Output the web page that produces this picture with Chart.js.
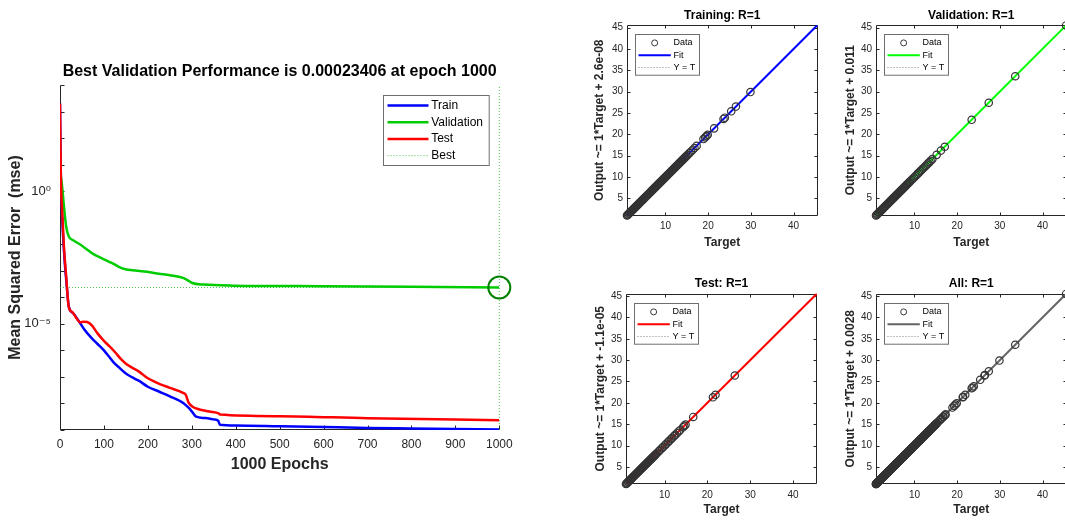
<!DOCTYPE html>
<html>
<head>
<meta charset="utf-8">
<title>Training performance and regression</title>
<script src="https://cdn.jsdelivr.net/npm/chart.js@4.4.1/dist/chart.umd.min.js"></script>
<style>
  html, body { margin:0; padding:0; background:#ffffff; width:1065px; height:521px; overflow:hidden; position:relative; }
  canvas { position:absolute; display:block; }
</style>
</head>
<body>
<script>
// ================= DATA =================
// Performance plot (mse on log scale, stored as log10 values)
const perfTrainEpochs = [0,2,5,10,15,20,30,45,55,70,85,100,110,122,135,150,165,180,200,225,250,282,292,300,310,330,350,360,364,400,500,600,700,800,900,1000];
const perfTrainLog10  = [3.3,0.5,-1.0,-2.5,-3.5,-4.35,-4.6,-4.95,-5.2,-5.5,-5.75,-6.0,-6.2,-6.45,-6.65,-6.87,-7.02,-7.15,-7.37,-7.55,-7.73,-8.0,-8.15,-8.3,-8.5,-8.55,-8.6,-8.65,-8.8,-8.83,-8.86,-8.89,-8.92,-8.94,-8.96,-8.98];

const perfValEpochs = [0,4,9,14,20,30,45,60,73,85,100,113,123,135,149,165,198,225,250,280,290,301,327,395,600,800,1000];
const perfValLog10  = [0.75,0.3,-0.57,-1.33,-1.71,-1.85,-2.0,-2.18,-2.34,-2.45,-2.57,-2.67,-2.75,-2.86,-2.94,-2.98,-3.04,-3.11,-3.17,-3.27,-3.35,-3.46,-3.52,-3.56,-3.58,-3.6,-3.63];

const perfTestEpochs = [0,2,5,9,14,20,28,38,45,55,62,73,85,100,113,126,140,150,165,180,198,215,230,250,280,286,293,301,312,340,362,365,500,700,1000];
const perfTestLog10  = [3.3,0.5,-0.8,-2.1,-3.2,-4.37,-4.56,-4.8,-4.94,-4.92,-4.93,-5.07,-5.35,-5.64,-5.85,-6.08,-6.35,-6.5,-6.66,-6.8,-7.03,-7.18,-7.29,-7.41,-7.6,-7.67,-7.98,-8.11,-8.2,-8.3,-8.38,-8.42,-8.48,-8.56,-8.63];

const bestEpoch = 1000;
const bestPerf = 0.00023406;
const perfXTicks = [0,100,200,300,400,500,600,700,800,900,1000];
const perfYTickExps = [-9,-8,-7,-6,-5,-4,-3,-2,-1,0,1,2,3,4];
const perfYTickLabels = ['','','','','10\u207B\u2075','','','','','10\u2070','','','',''];
const perfYRange = [1e-9, 1e4];
const perfXRange = [0, 1000];

// Regression plots (targets; outputs equal targets since R=1)
const trainTargets = [1.0,1.1,1.25,1.4,1.55,1.7,1.9,2.05,2.2,2.4,2.55,2.7,2.9,3.05,3.2,3.4,3.55,3.7,3.9,4.05,4.2,4.4,4.55,4.7,4.9,5.05,5.2,5.4,5.55,5.7,5.9,6.05,6.2,6.4,6.55,6.7,6.9,7.05,7.2,7.4,7.55,7.7,7.9,8.05,8.2,8.4,8.55,8.7,8.9,9.05,9.2,9.4,9.55,9.7,9.9,10.05,10.2,10.4,10.55,10.7,10.9,11.05,11.2,11.4,11.55,11.7,11.9,12.05,12.2,12.4,12.55,12.7,12.9,13.05,13.2,13.4,13.55,13.7,13.9,14.05,14.2,14.4,14.55,14.7,14.9,15.2,15.6,16.0,16.4,16.8,17.3,18.9,19.3,19.6,19.9,21.4,23.6,23.9,25.4,26.5,29.9];
const valTargets = [1.0,1.15,1.3,1.5,1.65,1.8,2.0,2.15,2.3,2.5,2.65,2.8,3.0,3.15,3.3,3.5,3.65,3.8,4.0,4.15,4.3,4.5,4.65,4.8,5.0,5.15,5.3,5.5,5.65,5.8,6.0,6.15,6.3,6.5,6.65,6.8,7.0,7.15,7.3,7.5,7.65,7.8,8.0,8.15,8.3,8.5,8.65,8.8,9.0,9.3,9.6,9.9,10.2,10.5,10.8,11.1,11.4,11.7,12.0,12.3,12.6,12.9,13.2,13.5,13.8,14.2,15.2,16.2,17.1,23.4,27.4,33.6,45.5];
const testTargets = [1.0,1.15,1.3,1.5,1.65,1.8,2.0,2.15,2.3,2.5,2.65,2.8,3.0,3.15,3.3,3.5,3.65,3.8,4.0,4.15,4.3,4.5,4.65,4.8,5.0,5.15,5.3,5.5,5.65,5.8,6.0,6.15,6.3,6.5,6.65,6.8,7.0,7.15,7.3,7.5,7.65,7.8,8.0,8.3,8.7,9.0,9.4,9.7,10.1,10.4,10.8,11.1,11.5,11.8,12.2,12.5,12.9,13.3,13.6,14.3,14.6,14.9,16.7,21.3,21.9,26.4];
const allTargets = trainTargets.concat(valTargets, testTargets);

const regTitles = ['Training: R=1','Validation: R=1','Test: R=1','All: R=1'];
const regYLabels = ['Output ~= 1*Target + 2.6e-08','Output ~= 1*Target + 0.011','Output ~= 1*Target + -1.1e-05','Output ~= 1*Target + 0.0028'];
const fitSlopes = [1,1,1,1];
const fitIntercepts = [2.6e-8, 0.011, -1.1e-5, 0.0028];
const regLimits = [1.0, 45.6];
const regXTicks = [10,20,30,40];
const regYTicks = [5,10,15,20,25,30,35,40,45];

// ================= STYLE / LAYOUT =================
const FONT = "'Liberation Sans', Arial, Helvetica, 'DejaVu Sans', sans-serif";
Chart.defaults.font.family = FONT;
Chart.defaults.color = '#262626';
const fitColors = ['#0000ff','#00ff00','#ff0000','#646464'];

function makeCanvas(left, top, w, h) {
  const c = document.createElement('canvas');
  c.width = w; c.height = h;
  c.style.left = left + 'px'; c.style.top = top + 'px';
  c.style.width = w + 'px'; c.style.height = h + 'px';
  document.body.appendChild(c);
  return c;
}

const framePlugin = {
  id: 'matFrame',
  beforeDatasetsDraw(chart, args, o) {
    const ctx = chart.ctx, a = chart.chartArea;
    const xs = chart.scales.x, ys = chart.scales.y;
    const L = Math.round(a.left) + 0.5, R = Math.round(a.right) - 0.5;
    const T = Math.round(a.top) + 0.5, B = Math.round(a.bottom) - 0.5;
    const tl = o.tickLen;
    ctx.save();
    ctx.strokeStyle = '#262626';
    ctx.lineWidth = 1;
    ctx.beginPath();
    if (o.box) { ctx.rect(L, T, R - L, B - T); }
    else { ctx.moveTo(L, T); ctx.lineTo(L, B); ctx.lineTo(R, B); }
    xs.ticks.forEach(t => {
      const p = Math.round(xs.getPixelForValue(t.value)) + 0.5;
      ctx.moveTo(p, B); ctx.lineTo(p, B - tl);
      if (o.box) { ctx.moveTo(p, T); ctx.lineTo(p, T + tl); }
    });
    ys.ticks.forEach(t => {
      const p = Math.round(ys.getPixelForValue(t.value)) + 0.5;
      ctx.moveTo(L, p); ctx.lineTo(L + tl, p);
      if (o.box) { ctx.moveTo(R, p); ctx.lineTo(R - tl, p); }
    });
    ctx.stroke();
    ctx.restore();
  }
};

const legendPlugin = {
  id: 'matLegend',
  afterDatasetsDraw(chart, args, o) {
    if (!o || !o.items) return;
    const ctx = chart.ctx, a = chart.chartArea;
    const x0 = Math.round(a.left + o.dx) + 0.5, y0 = Math.round(a.top + o.dy) + 0.5;
    ctx.save();
    ctx.fillStyle = '#ffffff';
    ctx.fillRect(x0, y0, o.w, o.h);
    ctx.strokeStyle = '#6e6e6e';
    ctx.lineWidth = 1;
    ctx.strokeRect(x0, y0, o.w, o.h);
    ctx.font = o.fontSize + 'px ' + FONT;
    ctx.textBaseline = 'middle';
    ctx.textAlign = 'left';
    o.items.forEach((it, i) => {
      const y = y0 + o.row0 + i * o.rowH;
      const s0 = x0 + o.s0, s1 = x0 + o.s1;
      ctx.save();
      ctx.strokeStyle = it.color;
      ctx.lineWidth = it.width;
      ctx.beginPath();
      if (it.kind === 'marker') {
        ctx.arc((s0 + s1) / 2, y, o.markerR, 0, Math.PI * 2);
      } else {
        if (it.kind === 'dot') ctx.setLineDash([1, 2]);
        ctx.moveTo(s0, y); ctx.lineTo(s1, y);
      }
      ctx.stroke();
      ctx.restore();
      ctx.fillStyle = '#000000';
      ctx.fillText(it.text, x0 + o.tx, y);
    });
    ctx.restore();
  }
};

// ================= PERFORMANCE CHART =================
const toPts = (xs, logs) => xs.map((x, i) => ({ x: x, y: Math.pow(10, logs[i]) }));

(function () {
  const c = makeCanvas(0, 0, 540, 521);
  new Chart(c, {
    type: 'scatter',
    data: {
      datasets: [
        { label: 'Train', data: toPts(perfTrainEpochs, perfTrainLog10), showLine: true, borderColor: '#0000ff', borderWidth: 2.5, pointRadius: 0, order: 3, cubicInterpolationMode: 'monotone' },
        { label: 'Validation', data: toPts(perfValEpochs, perfValLog10), showLine: true, borderColor: '#00cc00', borderWidth: 2.5, pointRadius: 0, order: 2, cubicInterpolationMode: 'monotone' },
        { label: 'Test', data: toPts(perfTestEpochs, perfTestLog10), showLine: true, borderColor: '#ff0000', borderWidth: 2.5, pointRadius: 0, order: 1, cubicInterpolationMode: 'monotone' },
        { label: 'Best', data: [{ x: perfXRange[0], y: bestPerf }, { x: perfXRange[1], y: bestPerf }], showLine: true, borderColor: 'rgba(0,170,0,0.7)', borderWidth: 1, borderDash: [1, 2], pointRadius: 0, order: 4 },
        { label: 'BestEpoch', data: [{ x: bestEpoch, y: perfYRange[0] }, { x: bestEpoch, y: perfYRange[1] }], showLine: true, borderColor: 'rgba(0,170,0,0.7)', borderWidth: 1, borderDash: [1, 2], pointRadius: 0, order: 4, clip: false },
        { label: 'BestPoint', data: [{ x: bestEpoch, y: bestPerf }], showLine: false, pointRadius: 11, pointBorderWidth: 2, pointBorderColor: '#008000', pointBackgroundColor: 'rgba(0,0,0,0)', order: 0, clip: false }
      ]
    },
    options: {
      responsive: false, animation: false, devicePixelRatio: 1, events: [],
      layout: { padding: { left: 0, right: 40.7, top: 0, bottom: 0 } },
      scales: {
        x: {
          type: 'linear', min: perfXRange[0], max: perfXRange[1],
          afterBuildTicks: s => { s.ticks = perfXTicks.map(v => ({ value: v })); },
          grid: { display: false, drawTicks: false }, border: { display: false },
          ticks: { font: { size: 12 }, color: '#262626', padding: 7.5, autoSkip: false, maxRotation: 0, callback: v => String(v) },
          title: { display: true, text: '1000 Epochs', font: { size: 16, weight: 'bold' }, color: '#262626', padding: { top: 0, bottom: 46.4 } },
          afterFit: s => { s.height = 91; }
        },
        y: {
          type: 'logarithmic', min: perfYRange[0], max: perfYRange[1],
          afterBuildTicks: s => { s.ticks = perfYTickExps.map(e => ({ value: Math.pow(10, e) })); },
          grid: { display: false, drawTicks: false }, border: { display: false },
          ticks: { font: { size: 13 }, color: '#262626', padding: 9, autoSkip: false, callback: (v, i) => perfYTickLabels[i] },
          title: { display: true, text: 'Mean Squared Error  (mse)', font: { size: 16, weight: 'bold' }, color: '#262626', padding: { top: 6.4, bottom: 0 } },
          afterFit: s => { s.width = 60; }
        }
      },
      plugins: {
        legend: { display: false }, tooltip: { enabled: false },
        title: { display: true, text: 'Best Validation Performance is 0.00023406 at epoch 1000', font: { size: 16, weight: 'bold' }, color: '#000000', padding: { top: 61.9, bottom: 3.9 }, fullSize: false },
        matFrame: { box: false, tickLen: 4 },
        matLegend: {
          dx: 323.3, dy: 10, w: 105.7, h: 70, row0: 10, rowH: 16.7, s0: 4, s1: 45, tx: 47.7, fontSize: 12, markerR: 3,
          items: [
            { kind: 'line', color: '#0000ff', width: 2.5, text: 'Train' },
            { kind: 'line', color: '#00cc00', width: 2.5, text: 'Validation' },
            { kind: 'line', color: '#ff0000', width: 2.5, text: 'Test' },
            { kind: 'dot', color: 'rgba(0,170,0,0.7)', width: 1, text: 'Best' }
          ]
        }
      }
    },
    plugins: [framePlugin, legendPlugin]
  });
})();

// ================= REGRESSION CHARTS =================
const regPanels = [
  { left: 575, top: 0,   w: 250, h: 258, ca: [627, 25, 817.5, 215.5], titleY: 15.8,  xTitleY: 242.5, yTitleX: 600 },
  { left: 824, top: 0,   w: 250, h: 258, ca: [876, 25, 1066.5, 215.5], titleY: 15.8, xTitleY: 242.5, yTitleX: 850.7 },
  { left: 574, top: 262, w: 250, h: 259, ca: [626, 293.5, 817, 484], titleY: 283.5,  xTitleY: 510, yTitleX: 600.7 },
  { left: 824, top: 262, w: 250, h: 259, ca: [876, 293.5, 1066.5, 484], titleY: 283.5, xTitleY: 510, yTitleX: 850.7 }
];
const regData = [trainTargets, valTargets, testTargets, allTargets];

regPanels.forEach((P, idx) => {
  const c = makeCanvas(P.left, P.top, P.w, P.h);
  const lo = regLimits[0], hi = regLimits[1];
  const yAxisW = P.ca[0] - P.left;
  const padRight = P.w - (P.ca[2] - P.left);
  const titleH = P.ca[1] - P.top;
  const tTop = P.titleY - P.top - 7.2;
  const tBottom = titleH - tTop - 14.4;
  const xH = P.h - (P.ca[3] - P.top);
  const xtPad = (P.top + P.h - P.xTitleY) - 7.2;
  const ytPad = P.yTitleX - P.left - 7.2;
  const targets = regData[idx];
  new Chart(c, {
    type: 'scatter',
    data: {
      datasets: [
        { label: 'Data', data: targets.map(t => ({ x: t, y: t })), showLine: false, pointRadius: 3.7, pointBorderWidth: 1.2, pointBorderColor: '#333333', pointBackgroundColor: 'rgba(0,0,0,0)', clip: false, order: 0 },
        { label: 'Fit', data: [{ x: lo, y: fitSlopes[idx] * lo + fitIntercepts[idx] }, { x: hi, y: fitSlopes[idx] * hi + fitIntercepts[idx] }], showLine: true, borderColor: fitColors[idx], borderWidth: 2, pointRadius: 0, order: 1 },
        { label: 'Y = T', data: [{ x: lo, y: lo }, { x: hi, y: hi }], showLine: true, borderColor: '#808080', borderWidth: 1, borderDash: [1, 2], pointRadius: 0, order: 2 }
      ]
    },
    options: {
      responsive: false, animation: false, devicePixelRatio: 1, events: [],
      layout: { padding: { left: 0, right: padRight, top: 0, bottom: 0 } },
      scales: {
        x: {
          type: 'linear', min: lo, max: hi,
          afterBuildTicks: s => { s.ticks = regXTicks.map(v => ({ value: v })); },
          grid: { display: false, drawTicks: false }, border: { display: false },
          ticks: { font: { size: 10 }, color: '#262626', padding: 5, autoSkip: false, maxRotation: 0 },
          title: { display: true, text: 'Target', font: { size: 12, weight: 'bold' }, color: '#262626', padding: { top: 0, bottom: xtPad } },
          afterFit: s => { s.height = xH; }
        },
        y: {
          type: 'linear', min: lo, max: hi,
          afterBuildTicks: s => { s.ticks = regYTicks.map(v => ({ value: v })); },
          grid: { display: false, drawTicks: false }, border: { display: false },
          ticks: { font: { size: 10 }, color: '#262626', padding: 4, autoSkip: false },
          title: { display: true, text: regYLabels[idx], font: { size: 12, weight: 'bold' }, color: '#262626', padding: { top: ytPad, bottom: 0 } },
          afterFit: s => { s.width = yAxisW; }
        }
      },
      plugins: {
        legend: { display: false }, tooltip: { enabled: false },
        title: { display: true, text: regTitles[idx], font: { size: 12, weight: 'bold' }, color: '#000000', padding: { top: tTop, bottom: tBottom }, fullSize: false },
        matFrame: { box: true, tickLen: 3 },
        matLegend: {
          dx: 7.7, dy: 9.3, w: 64, h: 40.7, row0: 8.4, rowH: 12.3, s0: 3, s1: 35.3, tx: 38, fontSize: 9, markerR: 3,
          items: [
            { kind: 'marker', color: '#3a3a3a', width: 1, text: 'Data' },
            { kind: 'line', color: fitColors[idx], width: 2, text: 'Fit' },
            { kind: 'dot', color: '#808080', width: 1, text: 'Y = T' }
          ]
        }
      }
    },
    plugins: [framePlugin, legendPlugin]
  });
});
</script>
</body>
</html>
